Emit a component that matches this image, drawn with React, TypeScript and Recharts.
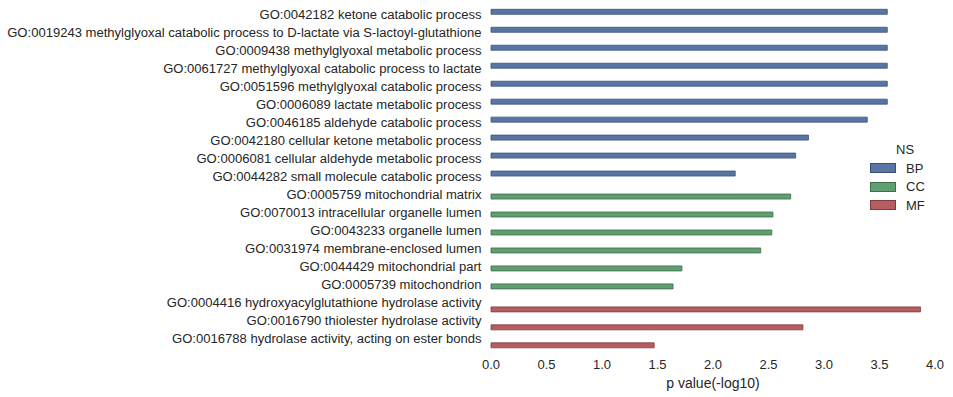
import React from "react";
import { BarChart, Bar, XAxis, YAxis } from "recharts";

const terms = [
  "GO:0042182 ketone catabolic process",
  "GO:0019243 methylglyoxal catabolic process to D-lactate via S-lactoyl-glutathione",
  "GO:0009438 methylglyoxal metabolic process",
  "GO:0061727 methylglyoxal catabolic process to lactate",
  "GO:0051596 methylglyoxal catabolic process",
  "GO:0006089 lactate metabolic process",
  "GO:0046185 aldehyde catabolic process",
  "GO:0042180 cellular ketone metabolic process",
  "GO:0006081 cellular aldehyde metabolic process",
  "GO:0044282 small molecule catabolic process",
  "GO:0005759 mitochondrial matrix",
  "GO:0070013 intracellular organelle lumen",
  "GO:0043233 organelle lumen",
  "GO:0031974 membrane-enclosed lumen",
  "GO:0044429 mitochondrial part",
  "GO:0005739 mitochondrion",
  "GO:0004416 hydroxyacylglutathione hydrolase activity",
  "GO:0016790 thiolester hydrolase activity",
  "GO:0016788 hydrolase activity, acting on ester bonds",
];

const namespaces = [
  "BP", "BP", "BP", "BP", "BP", "BP", "BP", "BP", "BP", "BP",
  "CC", "CC", "CC", "CC", "CC", "CC",
  "MF", "MF", "MF",
];

const pValues = [
  3.57, 3.57, 3.57, 3.57, 3.57, 3.57, 3.39, 2.86, 2.745, 2.2,
  2.7, 2.54, 2.53, 2.43, 1.72, 1.64,
  3.87, 2.81, 1.47,
];

const nsKeys = ["BP", "CC", "MF"];
const xTicks = [0, 0.5, 1, 1.5, 2, 2.5, 3, 3.5, 4];

const fills: Record<string, string> = { BP: "#5875a4", CC: "#5f9e6e", MF: "#b55d60" };
const strokes: Record<string, string> = { BP: "#3b5078", CC: "#3e6d49", MF: "#7e3c3e" };

const data = terms.map((t, i) => {
  const row: Record<string, any> = { name: t, BP: null, CC: null, MF: null };
  row[namespaces[i]] = pValues[i];
  return row;
});

const FONT = "'Liberation Sans', Arial, sans-serif";
const TXT = "#262626";

const YTick = (props: any) => {
  const { x, y, payload } = props;
  return (
    <text
      x={x}
      y={y}
      dx={-1.5}
      dy={3}
      textAnchor="end"
      fontFamily={FONT}
      fontSize={13.05}
      fill={TXT}
    >
      {payload.value}
    </text>
  );
};

const LegendBox = () => (
  <div
    style={{
      position: "absolute",
      left: 870,
      top: 141,
      width: 80,
      fontFamily: FONT,
      fontSize: 13,
      color: TXT,
    }}
  >
    <div style={{ marginLeft: 26, height: 18, lineHeight: "18px" }}>NS</div>
    {nsKeys.map((k) => (
      <div key={k} style={{ display: "flex", alignItems: "center", height: 18.5 }}>
        <div
          style={{
            width: 24,
            height: 8,
            background: fills[k],
            border: `1px solid ${strokes[k]}`,
            marginRight: 10,
          }}
        />
        <span>{k}</span>
      </div>
    ))}
  </div>
);

export default function App() {
  return (
    <div style={{ position: "absolute", left: 0, top: 0, width: 953, height: 397 }}>
      <BarChart
        width={953}
        height={397}
        data={data}
        layout="vertical"
        margin={{ top: 7.5, right: 18, bottom: 0, left: 0 }}
        barCategoryGap="10%"
        barGap={0}
      >
        <XAxis
          type="number"
          domain={[0, 4]}
          ticks={xTicks}
          tickFormatter={(v: number) => v.toFixed(1)}
          axisLine={false}
          tickLine={false}
          tickMargin={5}
          height={48}
          tick={{ fontFamily: FONT, fontSize: 13, fill: TXT }}
          label={{
            value: "p value(-log10)",
            position: "insideBottom",
            offset: 9,
            style: { fontFamily: FONT, fontSize: 14, fill: TXT },
          }}
        />
        <YAxis
          type="category"
          dataKey="name"
          width={491}
          axisLine={false}
          tickLine={false}
          interval={0}
          tick={<YTick />}
        />
        {nsKeys.map((k) => (
          <Bar
            key={k}
            dataKey={k}
            fill={fills[k]}
            stroke={strokes[k]}
            strokeWidth={0.8}
            isAnimationActive={false}
          />
        ))}
      </BarChart>
      <LegendBox />
    </div>
  );
}
